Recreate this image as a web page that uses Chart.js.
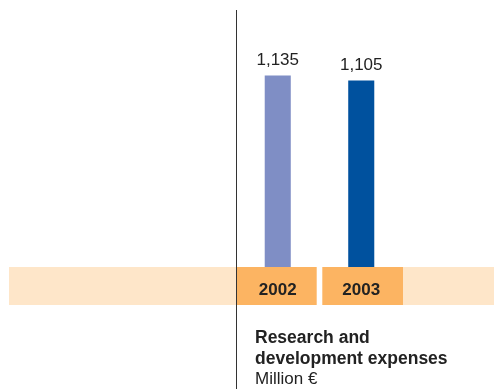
<!DOCTYPE html>
<html>
<head>
<meta charset="utf-8">
<script src="https://cdn.jsdelivr.net/npm/chart.js@4/dist/chart.umd.min.js"></script>
<style>
  html, body { margin: 0; padding: 0; background: #fff; }
  .wrap { position: relative; width: 494px; height: 389px; }
  .caption {
    position: absolute;
    left: 255px;
    top: 327px;
    font-family: 'Liberation Sans', Arial, Helvetica, sans-serif;
    font-size: 17px;
    line-height: 20px;
    color: #222;
  }
  .caption b { font-weight: bold; font-size: 17.5px; }
</style>
</head>
<body>
<div class="wrap">
  <canvas id="rd-chart" width="494" height="389"></canvas>
  <div class="caption"><b>Research and<br>development expenses</b><br>Million €</div>
</div>
<script>
const years = ['2002', '2003'];
const expenses = [1135, 1105];
const barColors = ['#7f8ec5', '#00519e'];

const FONT = "'Liberation Sans', Arial, Helvetica, sans-serif";

// peach band with orange year boxes, the divider line and value labels
const yearBand = {
  id: 'yearBand',
  afterDatasetsDraw(chart) {
    const { ctx, chartArea, scales } = chart;
    const x = scales.x;
    const catW = (chartArea.right - chartArea.left) / years.length;
    const top = chartArea.bottom;
    const h = 38;

    ctx.save();
    ctx.fillStyle = '#fee6c9';
    ctx.fillRect(9, top, chartArea.left - 9, h);
    ctx.fillRect(chartArea.right, top, chart.width - chartArea.right, h);

    ctx.fillStyle = '#fcb462';
    years.forEach((yr, i) => {
      let x0 = chartArea.left + i * catW;
      let x1 = x0 + catW;
      if (i > 0) x0 += 2.8;
      if (i < years.length - 1) x1 -= 2.8;
      ctx.fillRect(x0, top, x1 - x0, h);
    });

    ctx.fillStyle = '#222';
    ctx.textAlign = 'center';
    ctx.textBaseline = 'alphabetic';
    ctx.font = 'bold 17px ' + FONT;
    years.forEach((yr, i) => {
      ctx.fillText(yr, x.getPixelForValue(i), top + 27.5);
    });

    // value labels above the bars
    ctx.font = '17px ' + FONT;
    const meta = chart.getDatasetMeta(0);
    meta.data.forEach((bar, i) => {
      ctx.fillText(expenses[i].toLocaleString('en-US'), bar.x, bar.y - 11);
    });

    ctx.strokeStyle = '#333';
    ctx.lineWidth = 1;
    ctx.beginPath();
    ctx.moveTo(Math.round(chartArea.left) + 0.5, 10);
    ctx.lineTo(Math.round(chartArea.left) + 0.5, chart.height);
    ctx.stroke();
    ctx.restore();
  }
};

new Chart(document.getElementById('rd-chart'), {
  type: 'bar',
  data: {
    labels: years,
    datasets: [{
      data: expenses,
      backgroundColor: barColors,
      borderWidth: 0,
      categoryPercentage: 1,
      barPercentage: 0.312
    }]
  },
  options: {
    responsive: false,
    animation: false,
    layout: {
      padding: { left: 236, right: 91, top: 14, bottom: 122 }
    },
    scales: {
      x: { display: false },
      y: { display: false, min: 0, max: 1500 }
    },
    plugins: {
      legend: { display: false },
      tooltip: { enabled: false }
    }
  },
  plugins: [yearBand]
});
</script>
</body>
</html>
